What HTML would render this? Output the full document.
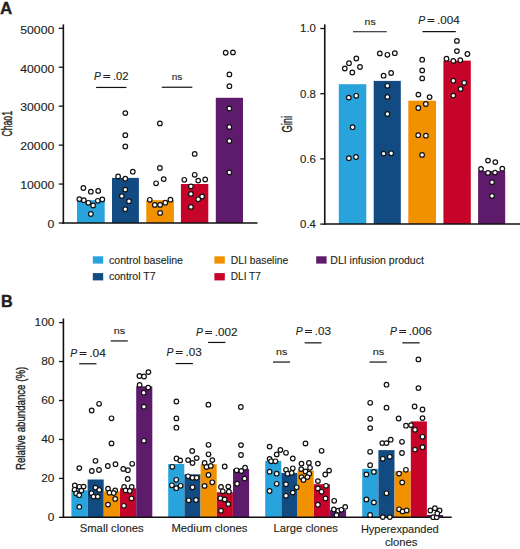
<!DOCTYPE html>
<html><head><meta charset="utf-8"><style>
html,body{margin:0;padding:0;background:#fff;}
body{width:520px;height:549px;overflow:hidden;}
svg{display:block;font-family:"Liberation Sans", sans-serif;}
text{fill:#231f20;stroke:#231f20;stroke-width:0.12px;}
</style></head><body>
<svg width="520" height="549" viewBox="0 0 520 549">
<rect width="520" height="549" fill="#fff"/>
<text x="0.1" y="14.4" font-size="17" font-weight="bold" style="stroke-width:0.3px">A</text>
<text x="1.0" y="307.3" font-size="16.2" font-weight="bold" style="stroke-width:0.4px">B</text>
<rect x="77.00" y="200.20" width="27.70" height="22.80" fill="#29a3dc"/>
<rect x="112.00" y="177.90" width="26.90" height="45.10" fill="#124a82"/>
<rect x="146.30" y="200.20" width="27.60" height="22.80" fill="#f29100"/>
<rect x="180.90" y="184.00" width="27.40" height="39.00" fill="#c6042a"/>
<rect x="215.80" y="97.80" width="27.20" height="125.20" fill="#5e1a6b"/>
<line x1="63.35" y1="24.4" x2="63.35" y2="223.75" stroke="#111" stroke-width="1.6"/>
<line x1="62.55" y1="223.0" x2="257.5" y2="223.0" stroke="#111" stroke-width="1.6"/>
<line x1="58.8" y1="28.3" x2="63.2" y2="28.3" stroke="#111" stroke-width="1.3"/>
<text x="54.3" y="33.6" font-size="10.4" text-anchor="end" textLength="34.03" lengthAdjust="spacingAndGlyphs">50000</text>
<line x1="58.8" y1="67.24" x2="63.2" y2="67.24" stroke="#111" stroke-width="1.3"/>
<text x="54.3" y="72.53999999999999" font-size="10.4" text-anchor="end" textLength="34.03" lengthAdjust="spacingAndGlyphs">40000</text>
<line x1="58.8" y1="106.17999999999999" x2="63.2" y2="106.17999999999999" stroke="#111" stroke-width="1.3"/>
<text x="54.3" y="111.47999999999999" font-size="10.4" text-anchor="end" textLength="34.03" lengthAdjust="spacingAndGlyphs">30000</text>
<line x1="58.8" y1="145.12" x2="63.2" y2="145.12" stroke="#111" stroke-width="1.3"/>
<text x="54.3" y="150.42000000000002" font-size="10.4" text-anchor="end" textLength="34.03" lengthAdjust="spacingAndGlyphs">20000</text>
<line x1="58.8" y1="184.06" x2="63.2" y2="184.06" stroke="#111" stroke-width="1.3"/>
<text x="54.3" y="189.36" font-size="10.4" text-anchor="end" textLength="34.03" lengthAdjust="spacingAndGlyphs">10000</text>
<line x1="58.8" y1="223.0" x2="63.2" y2="223.0" stroke="#111" stroke-width="1.3"/>
<text x="54.3" y="228.3" font-size="10.4" text-anchor="end" textLength="6.81" lengthAdjust="spacingAndGlyphs">0</text>
<text x="11.9" y="123.8" font-size="14.2" text-anchor="middle" textLength="25.60" lengthAdjust="spacingAndGlyphs" transform="rotate(-90 11.9 123.8)" style="stroke-width:0.35px">Chao1</text>
<rect x="338.80" y="84.20" width="27.50" height="139.80" fill="#29a3dc"/>
<rect x="373.70" y="80.90" width="27.10" height="143.10" fill="#124a82"/>
<rect x="408.30" y="100.70" width="27.70" height="123.30" fill="#f29100"/>
<rect x="443.40" y="60.60" width="27.40" height="163.40" fill="#c6042a"/>
<rect x="478.10" y="171.00" width="27.10" height="53.00" fill="#5e1a6b"/>
<line x1="324.75" y1="24.4" x2="324.75" y2="224.75" stroke="#111" stroke-width="1.6"/>
<line x1="323.95" y1="224.0" x2="520" y2="224.0" stroke="#111" stroke-width="1.6"/>
<line x1="320.3" y1="28.5" x2="324.7" y2="28.5" stroke="#111" stroke-width="1.3"/>
<text x="315.9" y="32.45" font-size="10.4" text-anchor="end" textLength="15.85" lengthAdjust="spacingAndGlyphs">1.0</text>
<line x1="320.3" y1="93.7" x2="324.7" y2="93.7" stroke="#111" stroke-width="1.3"/>
<text x="315.9" y="97.65" font-size="10.4" text-anchor="end" textLength="15.85" lengthAdjust="spacingAndGlyphs">0.8</text>
<line x1="320.3" y1="158.9" x2="324.7" y2="158.9" stroke="#111" stroke-width="1.3"/>
<text x="315.9" y="162.85" font-size="10.4" text-anchor="end" textLength="15.85" lengthAdjust="spacingAndGlyphs">0.6</text>
<line x1="320.3" y1="224.1" x2="324.7" y2="224.1" stroke="#111" stroke-width="1.3"/>
<text x="315.9" y="228.04999999999998" font-size="10.4" text-anchor="end" textLength="15.85" lengthAdjust="spacingAndGlyphs">0.4</text>
<text x="292.0" y="124.3" font-size="14.2" text-anchor="middle" textLength="16.60" lengthAdjust="spacingAndGlyphs" transform="rotate(-90 292.0 124.3)" style="stroke-width:0.35px">Gini</text>
<rect x="71.40" y="490.20" width="16.10" height="27.10" fill="#29a3dc"/>
<rect x="87.60" y="479.50" width="16.10" height="37.80" fill="#124a82"/>
<rect x="103.80" y="491.30" width="16.10" height="26.00" fill="#f29100"/>
<rect x="120.00" y="488.30" width="16.10" height="29.00" fill="#c6042a"/>
<rect x="136.20" y="386.30" width="16.10" height="131.00" fill="#5e1a6b"/>
<rect x="168.20" y="464.00" width="16.10" height="53.30" fill="#29a3dc"/>
<rect x="184.40" y="474.30" width="16.10" height="43.00" fill="#124a82"/>
<rect x="200.60" y="464.20" width="16.10" height="53.10" fill="#f29100"/>
<rect x="216.80" y="492.20" width="16.10" height="25.10" fill="#c6042a"/>
<rect x="233.00" y="469.00" width="16.10" height="48.30" fill="#5e1a6b"/>
<rect x="265.20" y="461.00" width="16.10" height="56.30" fill="#29a3dc"/>
<rect x="281.40" y="472.90" width="16.10" height="44.40" fill="#124a82"/>
<rect x="297.60" y="470.60" width="16.10" height="46.70" fill="#f29100"/>
<rect x="313.80" y="484.20" width="16.10" height="33.10" fill="#c6042a"/>
<rect x="330.00" y="510.10" width="16.10" height="7.20" fill="#5e1a6b"/>
<rect x="362.20" y="468.80" width="16.10" height="48.50" fill="#29a3dc"/>
<rect x="378.40" y="450.10" width="16.10" height="67.20" fill="#124a82"/>
<rect x="394.60" y="471.20" width="16.10" height="46.10" fill="#f29100"/>
<rect x="410.80" y="421.40" width="16.10" height="95.90" fill="#c6042a"/>
<rect x="427.00" y="515.00" width="16.10" height="2.30" fill="#5e1a6b"/>
<line x1="63.4" y1="318.5" x2="63.4" y2="518.05" stroke="#111" stroke-width="1.6"/>
<line x1="62.6" y1="517.3" x2="451.7" y2="517.3" stroke="#111" stroke-width="1.6"/>
<line x1="59.0" y1="322.6" x2="63.4" y2="322.6" stroke="#111" stroke-width="1.3"/>
<text x="54.4" y="326.0" font-size="10.4" text-anchor="end" textLength="19.82" lengthAdjust="spacingAndGlyphs">100</text>
<line x1="59.0" y1="361.55" x2="63.4" y2="361.55" stroke="#111" stroke-width="1.3"/>
<text x="54.4" y="364.95" font-size="10.4" text-anchor="end" textLength="13.21" lengthAdjust="spacingAndGlyphs">80</text>
<line x1="59.0" y1="400.5" x2="63.4" y2="400.5" stroke="#111" stroke-width="1.3"/>
<text x="54.4" y="403.9" font-size="10.4" text-anchor="end" textLength="13.21" lengthAdjust="spacingAndGlyphs">60</text>
<line x1="59.0" y1="439.45000000000005" x2="63.4" y2="439.45000000000005" stroke="#111" stroke-width="1.3"/>
<text x="54.4" y="442.85" font-size="10.4" text-anchor="end" textLength="13.21" lengthAdjust="spacingAndGlyphs">40</text>
<line x1="59.0" y1="478.40000000000003" x2="63.4" y2="478.40000000000003" stroke="#111" stroke-width="1.3"/>
<text x="54.4" y="481.8" font-size="10.4" text-anchor="end" textLength="13.21" lengthAdjust="spacingAndGlyphs">20</text>
<line x1="59.0" y1="517.35" x2="63.4" y2="517.35" stroke="#111" stroke-width="1.3"/>
<text x="54.4" y="520.75" font-size="10.4" text-anchor="end" textLength="6.61" lengthAdjust="spacingAndGlyphs">0</text>
<text x="25.4" y="418.4" font-size="12.8" text-anchor="middle" textLength="103.20" lengthAdjust="spacingAndGlyphs" transform="rotate(-90 25.4 418.4)" style="stroke-width:0.35px">Relative abundance (%)</text>
<text x="111.7" y="531.8" font-size="11.2" text-anchor="middle" textLength="64.00" lengthAdjust="spacingAndGlyphs">Small clones</text>
<text x="209.4" y="532.4" font-size="11.2" text-anchor="middle" textLength="76.00" lengthAdjust="spacingAndGlyphs">Medium clones</text>
<text x="305.7" y="531.8" font-size="11.2" text-anchor="middle" textLength="64.30" lengthAdjust="spacingAndGlyphs">Large clones</text>
<text x="399.8" y="532.7" font-size="11.2" text-anchor="middle" textLength="77.80" lengthAdjust="spacingAndGlyphs">Hyperexpanded</text>
<text x="401.2" y="545.7" font-size="11.2" text-anchor="middle" textLength="32.60" lengthAdjust="spacingAndGlyphs">clones</text>
<rect x="92.8" y="256.3" width="10.4" height="7.3" fill="#29a3dc"/>
<text x="109.0" y="263.8" font-size="10.5" textLength="74.00" lengthAdjust="spacingAndGlyphs">control baseline</text>
<rect x="92.8" y="273.1" width="10.4" height="7.3" fill="#124a82"/>
<text x="109.0" y="279.9" font-size="10.5">control T7</text>
<rect x="214.4" y="256.3" width="10.4" height="7.3" fill="#f29100"/>
<text x="230.8" y="263.8" font-size="10.5" textLength="57.40" lengthAdjust="spacingAndGlyphs">DLI baseline</text>
<rect x="214.4" y="273.1" width="10.4" height="7.3" fill="#c6042a"/>
<text x="230.8" y="279.9" font-size="10.5" textLength="30.00" lengthAdjust="spacingAndGlyphs">DLI T7</text>
<rect x="316.2" y="256.3" width="10.4" height="7.3" fill="#5e1a6b"/>
<text x="330.3" y="263.8" font-size="10.5" textLength="93.60" lengthAdjust="spacingAndGlyphs">DLI infusion product</text>
<text x="94.05000000000001" y="79.7" font-size="10.1" textLength="6.90" lengthAdjust="spacingAndGlyphs" font-style="italic">P</text>
<rect x="103.30" y="75" width="6.9" height="1" fill="#231f20"/>
<rect x="103.30" y="77" width="6.9" height="1" fill="#231f20"/>
<text x="112.9" y="79.7" font-size="10.1" textLength="15.60" lengthAdjust="spacingAndGlyphs">.02</text>
<line x1="96.1" y1="87.45" x2="126.4" y2="87.45" stroke="#111" stroke-width="1.2"/>
<text x="177.05" y="79.8" font-size="9.3" text-anchor="middle" textLength="10.60" lengthAdjust="spacingAndGlyphs">ns</text>
<line x1="161.8" y1="87.25" x2="192.3" y2="87.25" stroke="#111" stroke-width="1.2"/>
<text x="370.1" y="24.5" font-size="9.3" text-anchor="middle" textLength="11.10" lengthAdjust="spacingAndGlyphs">ns</text>
<line x1="353.0" y1="31.75" x2="386.8" y2="31.75" stroke="#111" stroke-width="1.2"/>
<text x="418.25" y="23.9" font-size="10.1" textLength="6.90" lengthAdjust="spacingAndGlyphs" font-style="italic">P</text>
<rect x="427.50" y="19" width="6.9" height="1" fill="#231f20"/>
<rect x="427.50" y="21" width="6.9" height="1" fill="#231f20"/>
<text x="437.1" y="23.9" font-size="10.1" textLength="22.60" lengthAdjust="spacingAndGlyphs">.004</text>
<line x1="422.5" y1="31.65" x2="455.8" y2="31.65" stroke="#111" stroke-width="1.2"/>
<text x="70.35000000000001" y="356.5" font-size="10.1" textLength="6.90" lengthAdjust="spacingAndGlyphs" font-style="italic">P</text>
<rect x="79.60" y="352" width="6.9" height="1" fill="#231f20"/>
<rect x="79.60" y="354" width="6.9" height="1" fill="#231f20"/>
<text x="89.19999999999999" y="356.5" font-size="10.1" textLength="16.60" lengthAdjust="spacingAndGlyphs">.04</text>
<line x1="79.2" y1="363.75" x2="96.5" y2="363.75" stroke="#111" stroke-width="1.2"/>
<text x="119.45" y="334.09999999999997" font-size="9.3" text-anchor="middle" textLength="11.40" lengthAdjust="spacingAndGlyphs">ns</text>
<line x1="110.7" y1="340.95" x2="127.8" y2="340.95" stroke="#111" stroke-width="1.2"/>
<text x="166.55" y="356.3" font-size="10.1" textLength="6.90" lengthAdjust="spacingAndGlyphs" font-style="italic">P</text>
<rect x="175.80" y="351" width="6.9" height="1" fill="#231f20"/>
<rect x="175.80" y="353" width="6.9" height="1" fill="#231f20"/>
<text x="185.4" y="356.3" font-size="10.1" textLength="16.30" lengthAdjust="spacingAndGlyphs">.03</text>
<line x1="175.6" y1="363.55" x2="192.9" y2="363.55" stroke="#111" stroke-width="1.2"/>
<text x="195.95000000000002" y="335.6" font-size="10.1" textLength="6.90" lengthAdjust="spacingAndGlyphs" font-style="italic">P</text>
<rect x="205.20" y="331" width="6.9" height="1" fill="#231f20"/>
<rect x="205.20" y="333" width="6.9" height="1" fill="#231f20"/>
<text x="214.8" y="335.6" font-size="10.1" textLength="22.70" lengthAdjust="spacingAndGlyphs">.002</text>
<line x1="208.1" y1="342.45" x2="225.4" y2="342.45" stroke="#111" stroke-width="1.2"/>
<text x="281.65" y="355.3" font-size="9.3" text-anchor="middle" textLength="11.20" lengthAdjust="spacingAndGlyphs">ns</text>
<line x1="273.0" y1="362.05" x2="290.1" y2="362.05" stroke="#111" stroke-width="1.2"/>
<text x="295.84999999999997" y="335.4" font-size="10.1" textLength="6.90" lengthAdjust="spacingAndGlyphs" font-style="italic">P</text>
<rect x="305.10" y="330" width="6.9" height="1" fill="#231f20"/>
<rect x="305.10" y="332" width="6.9" height="1" fill="#231f20"/>
<text x="314.7" y="335.4" font-size="10.1" textLength="16.20" lengthAdjust="spacingAndGlyphs">.03</text>
<line x1="304.7" y1="342.85" x2="321.6" y2="342.85" stroke="#111" stroke-width="1.2"/>
<text x="378.45000000000005" y="355.3" font-size="9.3" text-anchor="middle" textLength="11.60" lengthAdjust="spacingAndGlyphs">ns</text>
<line x1="369.5" y1="362.05" x2="386.9" y2="362.05" stroke="#111" stroke-width="1.2"/>
<text x="389.95" y="335.4" font-size="10.1" textLength="6.90" lengthAdjust="spacingAndGlyphs" font-style="italic">P</text>
<rect x="399.20" y="330" width="6.9" height="1" fill="#231f20"/>
<rect x="399.20" y="332" width="6.9" height="1" fill="#231f20"/>
<text x="408.8" y="335.4" font-size="10.1" textLength="23.20" lengthAdjust="spacingAndGlyphs">.006</text>
<line x1="402.3" y1="342.85" x2="419.7" y2="342.85" stroke="#111" stroke-width="1.2"/>
<g fill="#fff" stroke="#111" stroke-width="1.2">
<circle cx="83.4" cy="188.0" r="2.3"/>
<circle cx="90.85" cy="191.7" r="2.3"/>
<circle cx="98.2" cy="190.9" r="2.3"/>
<circle cx="79.3" cy="199.1" r="2.3"/>
<circle cx="83.8" cy="200.2" r="2.3"/>
<circle cx="88.4" cy="202.8" r="2.3"/>
<circle cx="93.1" cy="205.5" r="2.3"/>
<circle cx="97.8" cy="200.8" r="2.3"/>
<circle cx="102.3" cy="199.4" r="2.3"/>
<circle cx="90.85" cy="214.0" r="2.3"/>
<circle cx="125.3" cy="113.1" r="2.3"/>
<circle cx="125.3" cy="135.2" r="2.3"/>
<circle cx="125.3" cy="146.5" r="2.3"/>
<circle cx="132.8" cy="171.7" r="2.3"/>
<circle cx="118.1" cy="176.5" r="2.3"/>
<circle cx="125.3" cy="178.7" r="2.3"/>
<circle cx="125.3" cy="189.6" r="2.3"/>
<circle cx="121.8" cy="196.1" r="2.3"/>
<circle cx="129.0" cy="201.2" r="2.3"/>
<circle cx="125.3" cy="209.3" r="2.3"/>
<circle cx="159.9" cy="123.4" r="2.3"/>
<circle cx="159.9" cy="168.0" r="2.3"/>
<circle cx="163.7" cy="179.1" r="2.3"/>
<circle cx="156.1" cy="183.3" r="2.3"/>
<circle cx="149.8" cy="199.8" r="2.3"/>
<circle cx="154.8" cy="204.9" r="2.3"/>
<circle cx="160.1" cy="204.9" r="2.3"/>
<circle cx="165.3" cy="202.7" r="2.3"/>
<circle cx="170.4" cy="199.7" r="2.3"/>
<circle cx="160.1" cy="212.9" r="2.3"/>
<circle cx="194.7" cy="153.9" r="2.3"/>
<circle cx="194.7" cy="174.8" r="2.3"/>
<circle cx="184.3" cy="179.8" r="2.3"/>
<circle cx="198.2" cy="180.6" r="2.3"/>
<circle cx="205.2" cy="179.5" r="2.3"/>
<circle cx="190.9" cy="186.4" r="2.3"/>
<circle cx="190.9" cy="193.9" r="2.3"/>
<circle cx="202.1" cy="196.5" r="2.3"/>
<circle cx="198.2" cy="199.3" r="2.3"/>
<circle cx="190.9" cy="206.9" r="2.3"/>
<circle cx="225.7" cy="52.75" r="2.3"/>
<circle cx="232.95" cy="52.4" r="2.3"/>
<circle cx="229.4" cy="74.4" r="2.3"/>
<circle cx="229.4" cy="86.2" r="2.3"/>
<circle cx="229.35" cy="108.5" r="2.3"/>
<circle cx="229.35" cy="127.0" r="2.3"/>
<circle cx="229.35" cy="141.0" r="2.3"/>
<circle cx="229.35" cy="172.4" r="2.3"/>
<circle cx="356.3" cy="58.5" r="2.3"/>
<circle cx="349.0" cy="63.2" r="2.3"/>
<circle cx="360.0" cy="67.0" r="2.3"/>
<circle cx="344.8" cy="68.5" r="2.3"/>
<circle cx="352.3" cy="72.5" r="2.3"/>
<circle cx="348.8" cy="97.6" r="2.3"/>
<circle cx="356.2" cy="95.8" r="2.3"/>
<circle cx="352.6" cy="127.2" r="2.3"/>
<circle cx="348.9" cy="158.2" r="2.3"/>
<circle cx="356.0" cy="157.0" r="2.3"/>
<circle cx="379.8" cy="53.4" r="2.3"/>
<circle cx="387.4" cy="54.8" r="2.3"/>
<circle cx="394.8" cy="53.2" r="2.3"/>
<circle cx="383.6" cy="75.7" r="2.3"/>
<circle cx="391.1" cy="73.0" r="2.3"/>
<circle cx="387.4" cy="85.8" r="2.3"/>
<circle cx="387.4" cy="96.9" r="2.3"/>
<circle cx="387.4" cy="114.0" r="2.3"/>
<circle cx="383.6" cy="153.6" r="2.3"/>
<circle cx="391.2" cy="153.3" r="2.3"/>
<circle cx="422.2" cy="59.7" r="2.3"/>
<circle cx="422.2" cy="70.4" r="2.3"/>
<circle cx="422.2" cy="78.4" r="2.3"/>
<circle cx="418.4" cy="94.6" r="2.3"/>
<circle cx="429.6" cy="97.1" r="2.3"/>
<circle cx="425.8" cy="104.0" r="2.3"/>
<circle cx="418.3" cy="108.0" r="2.3"/>
<circle cx="418.2" cy="135.2" r="2.3"/>
<circle cx="425.9" cy="135.7" r="2.3"/>
<circle cx="422.1" cy="154.9" r="2.3"/>
<circle cx="456.9" cy="40.9" r="2.3"/>
<circle cx="456.9" cy="51.1" r="2.3"/>
<circle cx="467.4" cy="54.0" r="2.3"/>
<circle cx="446.5" cy="58.7" r="2.3"/>
<circle cx="453.3" cy="60.9" r="2.3"/>
<circle cx="460.3" cy="60.2" r="2.3"/>
<circle cx="453.3" cy="80.7" r="2.3"/>
<circle cx="464.2" cy="82.8" r="2.3"/>
<circle cx="460.6" cy="89.0" r="2.3"/>
<circle cx="453.3" cy="95.6" r="2.3"/>
<circle cx="488.0" cy="160.6" r="2.3"/>
<circle cx="495.3" cy="162.1" r="2.3"/>
<circle cx="481.0" cy="168.9" r="2.3"/>
<circle cx="488.0" cy="172.9" r="2.3"/>
<circle cx="495.0" cy="172.6" r="2.3"/>
<circle cx="502.3" cy="168.7" r="2.3"/>
<circle cx="492.0" cy="182.3" r="2.3"/>
<circle cx="492.0" cy="195.9" r="2.3"/>
<circle cx="79.3" cy="468.1" r="2.3"/>
<circle cx="74.8" cy="485.4" r="2.3"/>
<circle cx="79.4" cy="486.8" r="2.3"/>
<circle cx="83.6" cy="486.6" r="2.3"/>
<circle cx="74.6" cy="489.8" r="2.3"/>
<circle cx="81.4" cy="490.6" r="2.3"/>
<circle cx="76.2" cy="493.4" r="2.3"/>
<circle cx="79.2" cy="495.2" r="2.3"/>
<circle cx="79.3" cy="506.9" r="2.3"/>
<circle cx="91.7" cy="410.5" r="2.3"/>
<circle cx="99.1" cy="403.8" r="2.3"/>
<circle cx="95.5" cy="460.8" r="2.3"/>
<circle cx="91.8" cy="471.0" r="2.3"/>
<circle cx="99.0" cy="470.0" r="2.3"/>
<circle cx="95.5" cy="487.6" r="2.3"/>
<circle cx="99.3" cy="489.9" r="2.3"/>
<circle cx="91.5" cy="493.3" r="2.3"/>
<circle cx="93.5" cy="496.6" r="2.3"/>
<circle cx="97.8" cy="496.6" r="2.3"/>
<circle cx="111.5" cy="418.3" r="2.3"/>
<circle cx="111.5" cy="443.4" r="2.3"/>
<circle cx="107.8" cy="466.0" r="2.3"/>
<circle cx="115.5" cy="464.2" r="2.3"/>
<circle cx="108.0" cy="488.75" r="2.3"/>
<circle cx="109.5" cy="492.7" r="2.3"/>
<circle cx="115.2" cy="490.4" r="2.3"/>
<circle cx="113.7" cy="493.0" r="2.3"/>
<circle cx="115.2" cy="498.9" r="2.3"/>
<circle cx="108.0" cy="504.6" r="2.3"/>
<circle cx="123.3" cy="468.9" r="2.3"/>
<circle cx="127.9" cy="470.2" r="2.3"/>
<circle cx="132.2" cy="463.8" r="2.3"/>
<circle cx="127.7" cy="479.0" r="2.3"/>
<circle cx="124.1" cy="487.0" r="2.3"/>
<circle cx="131.7" cy="487.0" r="2.3"/>
<circle cx="125.6" cy="490.4" r="2.3"/>
<circle cx="129.8" cy="491.0" r="2.3"/>
<circle cx="131.5" cy="498.4" r="2.3"/>
<circle cx="123.9" cy="505.8" r="2.3"/>
<circle cx="139.4" cy="376.0" r="2.3"/>
<circle cx="144.0" cy="376.5" r="2.3"/>
<circle cx="148.4" cy="372.1" r="2.3"/>
<circle cx="139.6" cy="384.9" r="2.3"/>
<circle cx="148.2" cy="387.6" r="2.3"/>
<circle cx="143.7" cy="392.7" r="2.3"/>
<circle cx="143.9" cy="406.7" r="2.3"/>
<circle cx="143.9" cy="440.8" r="2.3"/>
<circle cx="176.4" cy="401.5" r="2.3"/>
<circle cx="176.4" cy="418.4" r="2.3"/>
<circle cx="176.4" cy="427.7" r="2.3"/>
<circle cx="176.5" cy="458.5" r="2.3"/>
<circle cx="180.2" cy="460.4" r="2.3"/>
<circle cx="172.3" cy="466.8" r="2.3"/>
<circle cx="176.2" cy="479.8" r="2.3"/>
<circle cx="171.9" cy="485.3" r="2.3"/>
<circle cx="176.2" cy="488.2" r="2.3"/>
<circle cx="180.6" cy="485.8" r="2.3"/>
<circle cx="192.2" cy="451.0" r="2.3"/>
<circle cx="188.1" cy="460.1" r="2.3"/>
<circle cx="196.7" cy="458.1" r="2.3"/>
<circle cx="192.5" cy="463.0" r="2.3"/>
<circle cx="188.1" cy="476.3" r="2.3"/>
<circle cx="192.5" cy="477.8" r="2.3"/>
<circle cx="196.7" cy="477.8" r="2.3"/>
<circle cx="192.5" cy="487.3" r="2.3"/>
<circle cx="188.7" cy="500.3" r="2.3"/>
<circle cx="196.0" cy="500.0" r="2.3"/>
<circle cx="208.4" cy="404.7" r="2.3"/>
<circle cx="208.5" cy="444.8" r="2.3"/>
<circle cx="208.5" cy="454.3" r="2.3"/>
<circle cx="212.3" cy="460.1" r="2.3"/>
<circle cx="204.6" cy="463.0" r="2.3"/>
<circle cx="206.5" cy="467.0" r="2.3"/>
<circle cx="210.8" cy="465.9" r="2.3"/>
<circle cx="208.5" cy="475.0" r="2.3"/>
<circle cx="212.3" cy="482.3" r="2.3"/>
<circle cx="204.6" cy="485.9" r="2.3"/>
<circle cx="224.7" cy="466.5" r="2.3"/>
<circle cx="221.0" cy="486.9" r="2.3"/>
<circle cx="228.3" cy="486.6" r="2.3"/>
<circle cx="222.8" cy="491.3" r="2.3"/>
<circle cx="228.9" cy="491.7" r="2.3"/>
<circle cx="220.3" cy="498.3" r="2.3"/>
<circle cx="224.7" cy="499.5" r="2.3"/>
<circle cx="228.3" cy="504.1" r="2.3"/>
<circle cx="221.0" cy="510.7" r="2.3"/>
<circle cx="240.8" cy="407.0" r="2.3"/>
<circle cx="241.0" cy="445.1" r="2.3"/>
<circle cx="241.0" cy="455.0" r="2.3"/>
<circle cx="236.6" cy="470.3" r="2.3"/>
<circle cx="241.3" cy="471.0" r="2.3"/>
<circle cx="245.1" cy="467.7" r="2.3"/>
<circle cx="244.6" cy="478.6" r="2.3"/>
<circle cx="237.1" cy="483.7" r="2.3"/>
<circle cx="269.6" cy="446.6" r="2.3"/>
<circle cx="276.7" cy="454.4" r="2.3"/>
<circle cx="280.4" cy="450.0" r="2.3"/>
<circle cx="269.6" cy="459.0" r="2.3"/>
<circle cx="271.1" cy="461.3" r="2.3"/>
<circle cx="275.5" cy="461.3" r="2.3"/>
<circle cx="269.6" cy="471.7" r="2.3"/>
<circle cx="276.7" cy="473.7" r="2.3"/>
<circle cx="276.7" cy="483.8" r="2.3"/>
<circle cx="269.6" cy="491.0" r="2.3"/>
<circle cx="286.0" cy="452.8" r="2.3"/>
<circle cx="292.8" cy="458.5" r="2.3"/>
<circle cx="286.0" cy="469.8" r="2.3"/>
<circle cx="292.8" cy="468.3" r="2.3"/>
<circle cx="287.6" cy="473.7" r="2.3"/>
<circle cx="291.7" cy="472.9" r="2.3"/>
<circle cx="286.0" cy="484.2" r="2.3"/>
<circle cx="296.7" cy="487.3" r="2.3"/>
<circle cx="292.8" cy="492.6" r="2.3"/>
<circle cx="286.0" cy="495.8" r="2.3"/>
<circle cx="305.5" cy="443.5" r="2.3"/>
<circle cx="301.5" cy="463.6" r="2.3"/>
<circle cx="308.9" cy="462.9" r="2.3"/>
<circle cx="301.2" cy="469.1" r="2.3"/>
<circle cx="305.5" cy="471.4" r="2.3"/>
<circle cx="310.0" cy="467.8" r="2.3"/>
<circle cx="309.2" cy="473.7" r="2.3"/>
<circle cx="301.5" cy="477.1" r="2.3"/>
<circle cx="307.4" cy="477.1" r="2.3"/>
<circle cx="303.5" cy="479.9" r="2.3"/>
<circle cx="321.6" cy="450.8" r="2.3"/>
<circle cx="317.9" cy="463.6" r="2.3"/>
<circle cx="329.1" cy="470.6" r="2.3"/>
<circle cx="325.2" cy="474.5" r="2.3"/>
<circle cx="317.9" cy="481.1" r="2.3"/>
<circle cx="326.0" cy="485.8" r="2.3"/>
<circle cx="317.9" cy="488.4" r="2.3"/>
<circle cx="321.6" cy="491.8" r="2.3"/>
<circle cx="325.5" cy="498.5" r="2.3"/>
<circle cx="317.9" cy="504.7" r="2.3"/>
<circle cx="334.2" cy="500.8" r="2.3"/>
<circle cx="333.9" cy="509.5" r="2.3"/>
<circle cx="338.2" cy="510.7" r="2.3"/>
<circle cx="341.4" cy="509.8" r="2.3"/>
<circle cx="345.2" cy="506.9" r="2.3"/>
<circle cx="336.5" cy="515.1" r="2.3"/>
<circle cx="370.2" cy="402.8" r="2.3"/>
<circle cx="370.2" cy="418.8" r="2.3"/>
<circle cx="370.2" cy="428.1" r="2.3"/>
<circle cx="370.1" cy="451.8" r="2.3"/>
<circle cx="370.1" cy="465.2" r="2.3"/>
<circle cx="366.4" cy="474.4" r="2.3"/>
<circle cx="373.9" cy="471.9" r="2.3"/>
<circle cx="366.4" cy="499.5" r="2.3"/>
<circle cx="373.9" cy="502.4" r="2.3"/>
<circle cx="370.1" cy="515.0" r="2.3"/>
<circle cx="386.5" cy="384.7" r="2.3"/>
<circle cx="386.5" cy="407.7" r="2.3"/>
<circle cx="382.3" cy="443.1" r="2.3"/>
<circle cx="386.5" cy="443.1" r="2.3"/>
<circle cx="390.7" cy="439.7" r="2.3"/>
<circle cx="382.8" cy="458.8" r="2.3"/>
<circle cx="389.8" cy="456.8" r="2.3"/>
<circle cx="386.5" cy="493.3" r="2.3"/>
<circle cx="382.8" cy="517.1" r="2.3"/>
<circle cx="389.8" cy="517.1" r="2.3"/>
<circle cx="398.6" cy="418.5" r="2.3"/>
<circle cx="406.0" cy="425.7" r="2.3"/>
<circle cx="402.0" cy="441.8" r="2.3"/>
<circle cx="402.0" cy="453.0" r="2.3"/>
<circle cx="405.9" cy="469.8" r="2.3"/>
<circle cx="399.1" cy="473.6" r="2.3"/>
<circle cx="402.2" cy="482.4" r="2.3"/>
<circle cx="399.1" cy="509.3" r="2.3"/>
<circle cx="402.6" cy="511.4" r="2.3"/>
<circle cx="406.7" cy="510.4" r="2.3"/>
<circle cx="418.4" cy="359.4" r="2.3"/>
<circle cx="418.4" cy="388.1" r="2.3"/>
<circle cx="414.6" cy="406.5" r="2.3"/>
<circle cx="422.5" cy="409.5" r="2.3"/>
<circle cx="422.5" cy="418.1" r="2.3"/>
<circle cx="411.0" cy="425.1" r="2.3"/>
<circle cx="415.0" cy="429.8" r="2.3"/>
<circle cx="422.5" cy="436.8" r="2.3"/>
<circle cx="422.5" cy="447.2" r="2.3"/>
<circle cx="415.0" cy="449.6" r="2.3"/>
<circle cx="430.3" cy="510.5" r="2.3"/>
<circle cx="434.9" cy="508.2" r="2.3"/>
<circle cx="439.6" cy="510.5" r="2.3"/>
<circle cx="433.2" cy="517.2" r="2.3"/>
<circle cx="436.7" cy="517.2" r="2.3"/>
<circle cx="437.3" cy="513.5" r="2.3"/>
</g>
</svg>
</body></html>
